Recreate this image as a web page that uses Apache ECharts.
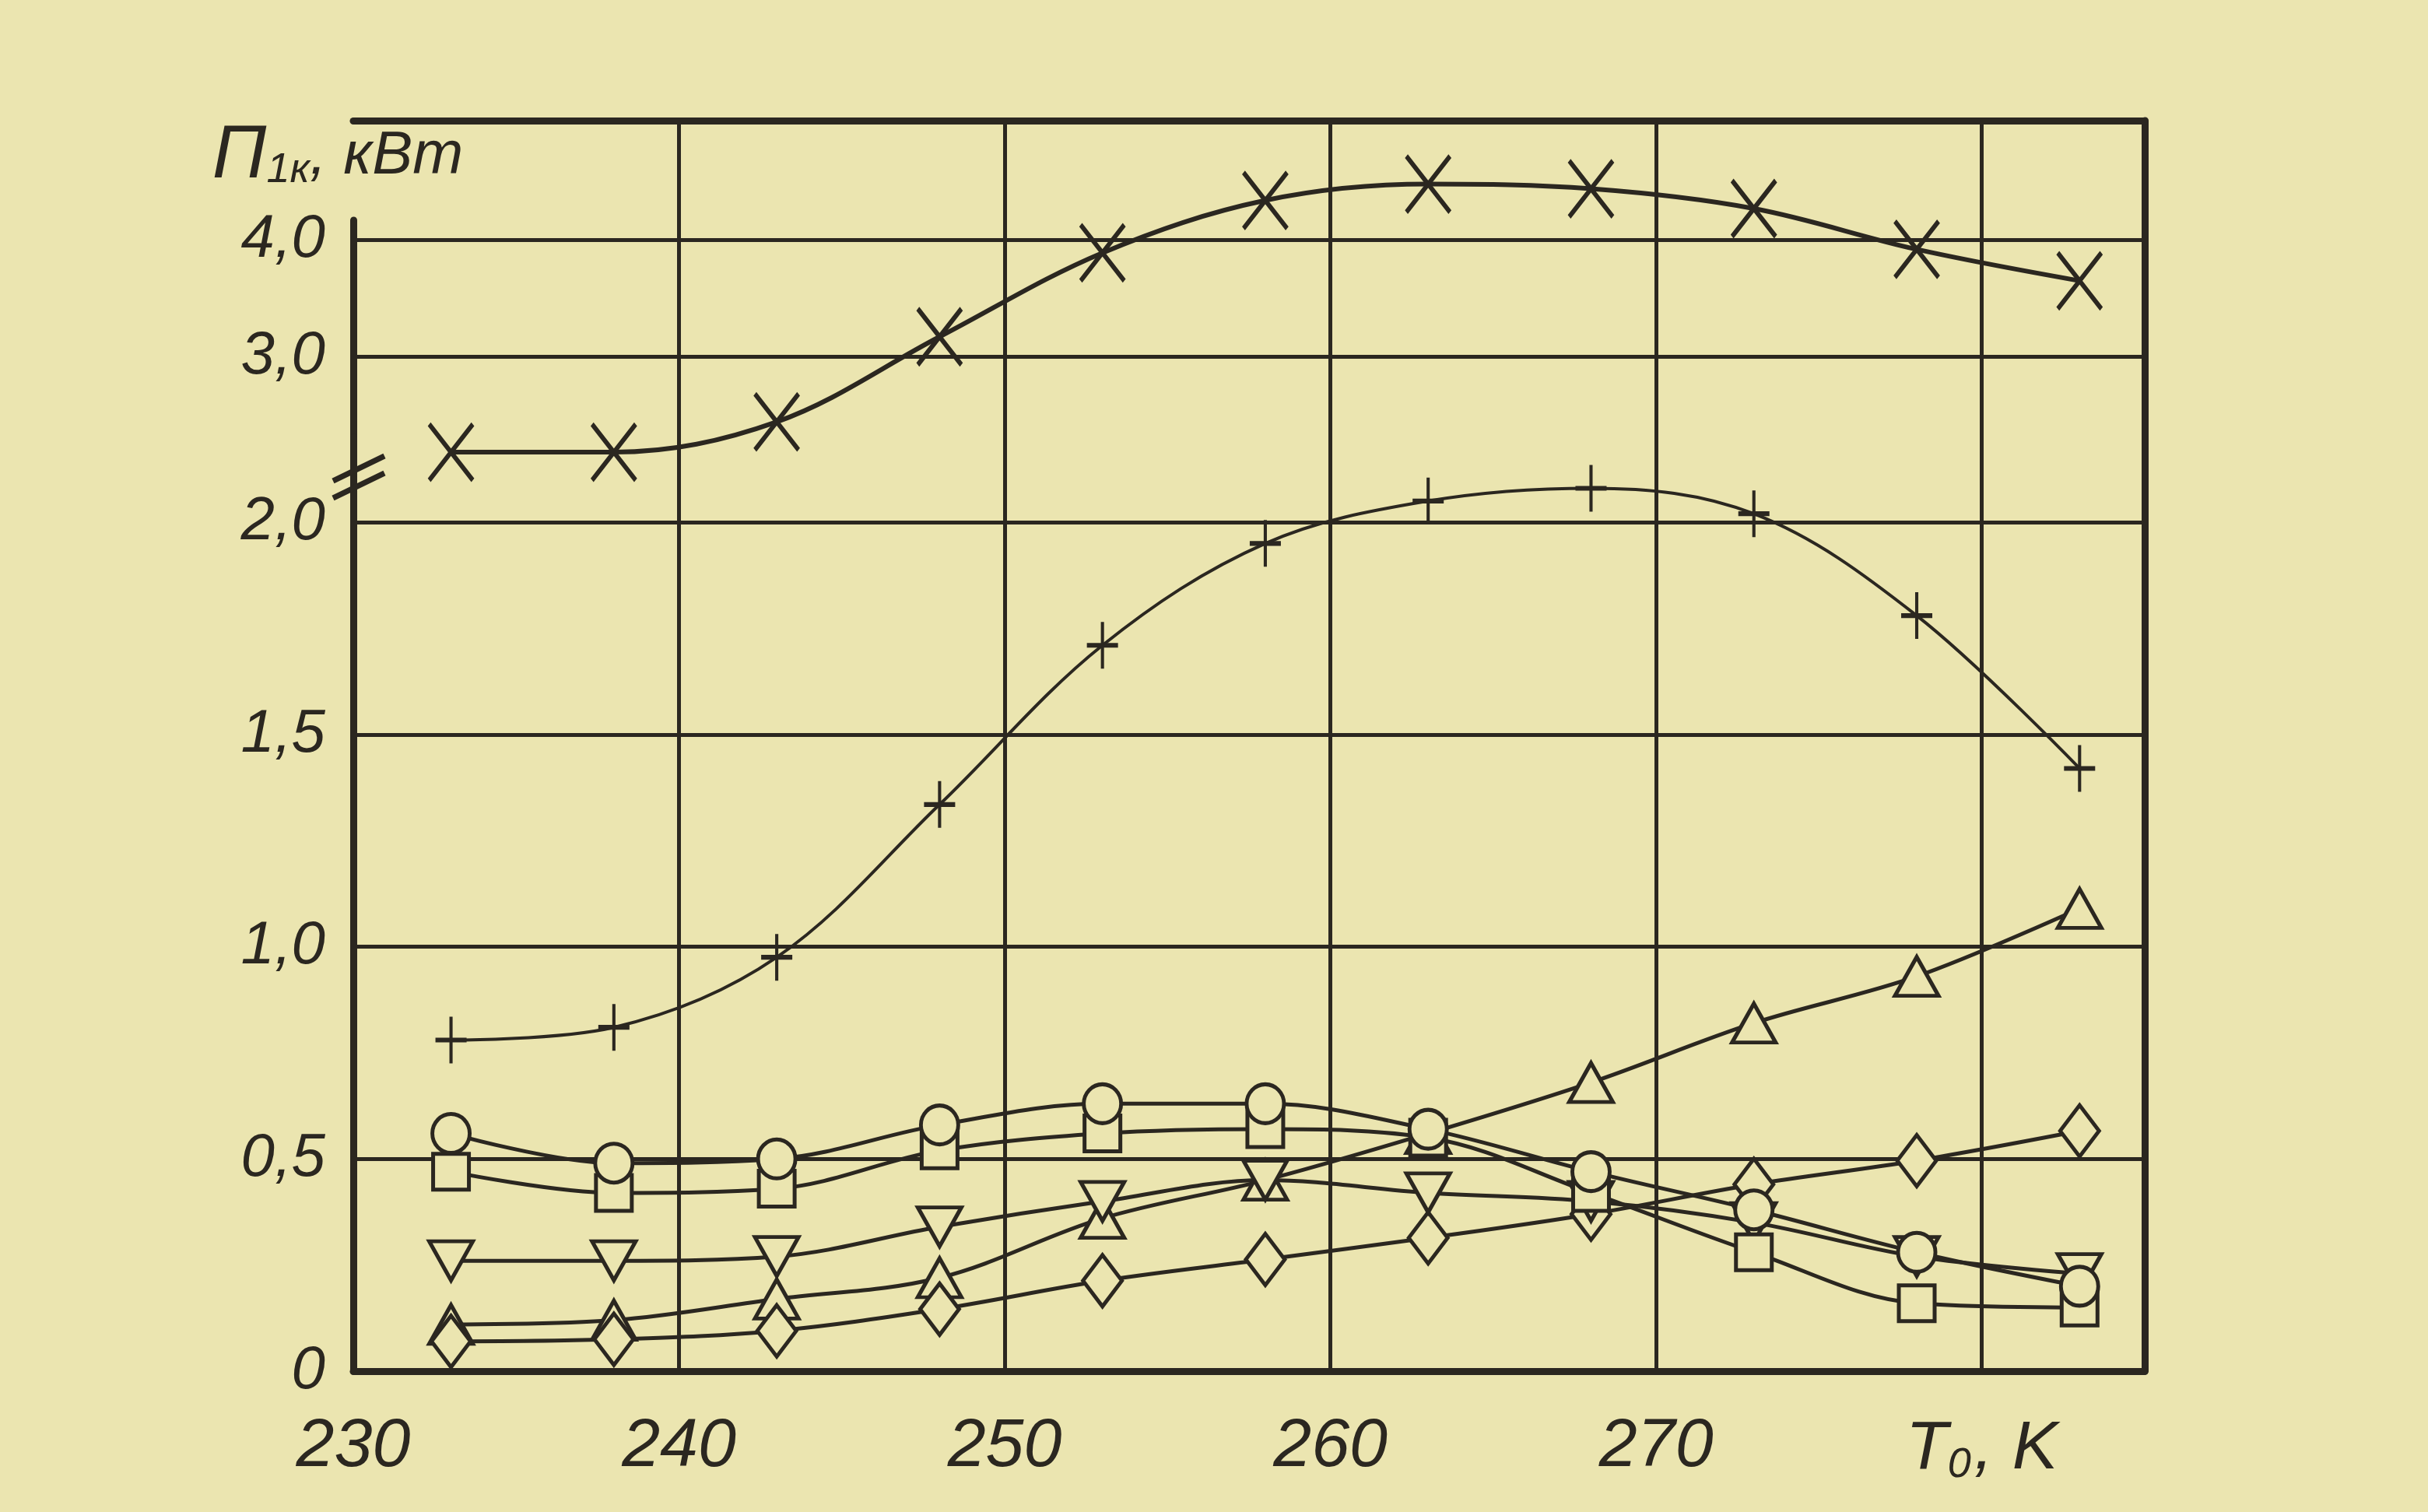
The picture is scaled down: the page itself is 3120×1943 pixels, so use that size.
<!DOCTYPE html>
<html>
<head>
<meta charset="utf-8">
<title>П1к от T0</title>
<script src="https://cdn.jsdelivr.net/npm/echarts@6/dist/echarts.min.js"></script>
<style>
  html, body { margin: 0; padding: 0; background: #ebe5b0; }
  #chart { width: 3120px; height: 1943px; }
</style>
</head>
<body>
<div id="chart"></div>
<script>
// temperature points, K
const temps = [233, 238, 243, 248, 253, 258, 263, 268, 273, 278, 283]
const xTickLabels = ['230', '240', '250', '260', '270']

// upper scale (above the break), kW
const crossVals = [2.18, 2.18, 2.44, 3.17, 3.89, 4.34, 4.48, 4.44, 4.27, 3.92, 3.65]
const upperTickLabels = { 3: '3,0', 4: '4,0' }

// lower scale, kW
const plusVals = [0.78, 0.81, 0.975, 1.335, 1.71, 1.95, 2.05, 2.08, 2.02, 1.78, 1.42]
const circleVals = [0.56, 0.49, 0.50, 0.58, 0.63, 0.63, 0.57, 0.47, 0.38, 0.28, 0.20]
const squareVals = [0.47, 0.42, 0.43, 0.52, 0.56, 0.57, 0.55, 0.42, 0.28, 0.16, 0.15]
const triDownVals = [0.26, 0.26, 0.27, 0.34, 0.40, 0.45, 0.42, 0.40, 0.35, 0.27, 0.23]
const triUpVals = [0.11, 0.12, 0.17, 0.22, 0.36, 0.45, 0.56, 0.68, 0.82, 0.93, 1.09]
const diamondVals = [0.07, 0.075, 0.095, 0.146, 0.213, 0.263, 0.314, 0.37, 0.44, 0.496, 0.566]
const lowerTickLabels = { 0: '0', 0.5: '0,5', 1: '1,0', 1.5: '1,5', 2: '2,0' }

const ink = '#2b2720'
const paper = '#ebe5b0'
const none = 'rgba(0,0,0,0)'
const font = 'Liberation Sans'

function pairs(vals) {
  return temps.map((t, i) => [t, vals[i]])
}

function curve(name, vals, symbol, size, opts) {
  return Object.assign({
    name: name,
    type: 'line',
    xAxisIndex: 3,
    yAxisIndex: 2,
    data: pairs(vals),
    smooth: 0.35,
    clip: false,
    symbol: symbol,
    symbolSize: size,
    showAllSymbol: true,
    lineStyle: { color: ink, width: 5 },
    itemStyle: { color: paper, borderColor: ink, borderWidth: 5 }
  }, opts || {})
}

const chart = echarts.init(document.getElementById('chart'), null, { renderer: 'canvas' })

chart.setOption({
  backgroundColor: paper,
  animation: false,
  grid: [
    // frame
    { left: 454, right: 364, top: 155, bottom: 181 },
    // upper scale
    { left: 454, right: 364, top: 283, bottom: 1335 },
    // lower scale
    { left: 454, right: 364, top: 562, bottom: 181 }
  ],
  xAxis: [
    {
      gridIndex: 0, type: 'value', min: 230, max: 285, interval: 10,
      axisLine: { show: true, onZero: false, lineStyle: { color: ink, width: 9 } },
      axisTick: { show: false },
      splitLine: { show: true, lineStyle: { color: [none, ink, ink, ink, ink, ink, none], width: 5 } },
      axisLabel: {
        margin: 54,
        color: ink, fontFamily: font, fontStyle: 'italic', fontSize: 88,
        formatter: function (v) {
          const i = xTickLabels.indexOf(String(v))
          if (i >= 0) return xTickLabels[i]
          if (v === 280) return '{t|T}{s|0}{t|, K}'
          return ''
        },
        rich: {
          t: { color: ink, fontFamily: font, fontStyle: 'italic', fontSize: 88, padding: [0, 0, 0, 0] },
          s: { color: ink, fontFamily: font, fontStyle: 'italic', fontSize: 54, padding: [40, 4, 0, 0] }
        }
      }
    },
    {
      gridIndex: 0, type: 'value', position: 'top', min: 230, max: 285,
      axisLine: { show: true, onZero: false, lineStyle: { color: ink, width: 9 } },
      axisTick: { show: false }, axisLabel: { show: false }, splitLine: { show: false }
    },
    { gridIndex: 1, type: 'value', min: 230, max: 285, show: false },
    { gridIndex: 2, type: 'value', min: 230, max: 285, show: false }
  ],
  yAxis: [
    {
      gridIndex: 0, type: 'value', position: 'right', min: 0, max: 1,
      axisLine: { show: true, onZero: false, lineStyle: { color: ink, width: 9 } },
      axisTick: { show: false }, axisLabel: { show: false }, splitLine: { show: false }
    },
    {
      gridIndex: 1, type: 'value', min: 2, max: 4.17, interval: 1,
      axisLine: { show: true, onZero: false, lineStyle: { color: ink, width: 9 } },
      axisTick: { show: false },
      splitLine: { show: true, lineStyle: { color: [none, ink, ink, none], width: 5 } },
      axisLabel: {
        margin: 36, color: ink, fontFamily: font, fontStyle: 'italic', fontSize: 78,
        formatter: v => upperTickLabels[v] || ''
      },
      name: '{a|П}{b|1к}{c|, кВт}',
      nameLocation: 'end',
      nameGap: 34,
      nameTextStyle: {
        padding: [0, 40, 0, 0],
        rich: {
          a: { color: ink, fontFamily: font, fontStyle: 'italic', fontSize: 96 },
          b: { color: ink, fontFamily: font, fontStyle: 'italic', fontSize: 54, padding: [36, 0, 0, 0] },
          c: { color: ink, fontFamily: font, fontStyle: 'italic', fontSize: 78 }
        }
      }
    },
    {
      gridIndex: 2, type: 'value', min: 0, max: 2.2, interval: 0.5,
      axisLine: { show: true, onZero: false, lineStyle: { color: ink, width: 9 } },
      axisTick: { show: false },
      splitLine: { show: true, lineStyle: { color: [ink, ink, ink, ink, ink, none], width: 5 } },
      axisLabel: {
        margin: 36, color: ink, fontFamily: font, fontStyle: 'italic', fontSize: 78,
        formatter: v => (lowerTickLabels[v] !== undefined ? lowerTickLabels[v] : '')
      }
    }
  ],
  graphic: [
    // axis break mark
    { type: 'line', z: 100, shape: { x1: 428, y1: 618, x2: 494, y2: 586 }, style: { stroke: ink, lineWidth: 7 } },
    { type: 'line', z: 100, shape: { x1: 428, y1: 640, x2: 494, y2: 608 }, style: { stroke: ink, lineWidth: 7 } }
  ],
  series: [
    curve('cross', crossVals, 'path://M0,0L10,14M10,0L0,14', [56, 72], {
      xAxisIndex: 2, yAxisIndex: 1,
      lineStyle: { color: ink, width: 6 },
      itemStyle: { color: none, borderColor: ink, borderWidth: 6 }
    }),
    curve('plus', plusVals, 'path://M5,0L5,14M0,7L10,7', [40, 60], {
      lineStyle: { color: ink, width: 4 },
      itemStyle: { color: none, borderColor: ink, borderWidth: 5 }
    }),
    curve('triUp', triUpVals, 'triangle', [56, 50]),
    curve('diamond', diamondVals, 'diamond', [50, 66]),
    curve('triDown', triDownVals, 'triangle', [56, 50], { symbolRotate: 180 }),
    curve('square', squareVals, 'rect', [46, 46]),
    curve('circle', circleVals, 'circle', [48, 50])
  ]
})
</script>
</body>
</html>
